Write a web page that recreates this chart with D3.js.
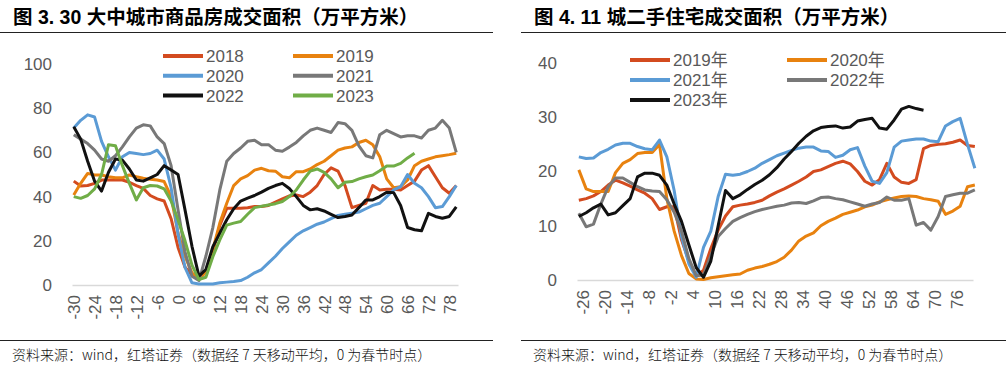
<!DOCTYPE html>
<html>
<head>
<meta charset="utf-8">
<script src="https://cdn.jsdelivr.net/npm/d3@7"></script>
<style>
body { margin: 0; background: #fff; }
svg { display: block; }
</style>
</head>
<body>
<div id="chart"></div>
<script>
// ---- left panel: 大中城市商品房成交面积, day 0 = Spring Festival ----
const daysL = [-30,-28,-26,-24,-22,-20,-18,-16,-14,-12,-10,-8,-6,-4,-2,0,2,4,6,8,10,12,14,16,18,20,22,24,26,28,30,32,34,36,38,40,42,44,46,48,50,52,54,56,58,60,62,64,66,68,70,72,74,76,78,80];
const big2018 = [47,44.8,45,46,47.5,47.5,47.5,47.5,46.5,45,43.7,40.5,39,38,30,17,8,4.5,2.5,6,15,27,34.7,34.7,34.7,35,35.5,35.5,36,37.5,39,40.3,40.7,40,42,45,50,53,51.5,45,35,36,37,45,43,43.3,43.3,43,45,47,52,54,49,44,41.5,45];
const big2019 = [40.7,46,50.5,49.8,49.8,49,48.5,48.5,49.8,49,48.3,47.8,47.5,46.8,40,23.4,13,5.5,3,6,16,28,37,45,48,49.5,52,52.8,51.7,51.5,49,48.5,51.3,51.3,52.5,54.5,56,58.5,61,62,62.5,64.5,65.5,63.5,58,48,44,44.5,47.5,54,56,57,58,58.5,59,59.6];
const big2020 = [71,74.5,77,76,65,58,52,58,60,59.5,59,59.5,61,57,44,23,8,1,0.5,0.5,0.5,1,1.3,1.6,2,3.5,5.5,7,10,13,16.5,19.5,22.5,24.5,26,27.5,28.5,30,31.5,32,32.5,33,34.5,36,37,40,43,44.5,50,46,44,40,35,35.5,40,45];
const big2021 = [68,66,64,61,57,56,58.5,62.5,67,71,72.5,72,67,64,54,34,15,4,2,13,26,43,56,59.5,62,65,65.5,63.5,63.5,61,60.5,62.4,64.5,67.5,70,71,70,69,73.5,73,70,63,58.5,57.5,68,70,68.5,67,67.5,67.5,66.5,70,71,74.5,71,60];
const big2022 = [71.6,66,56,47,42.5,51,57,56.5,52.5,47.5,47,48.5,50,54,52,50,34,17.5,4,7,17.3,23.4,29.5,34.5,38,39.3,40.5,42,43.7,45,46,43.7,40,36,34,34.5,33.5,32,30.5,31,31.7,35,38.5,38.5,40,42,41.8,36,26,25,24.5,32.4,31,30.2,31,35.4];
const big2023 = [40,39.2,40.5,43.5,50,63.5,63,54,46,38.5,44,45,44.8,43.5,38,29.4,20,9,2.5,3.5,12.8,20.4,27.1,28,28.7,32,35,35.6,36.2,36.8,37.8,40,43,47.5,51.5,52.5,51,48,44,46.5,46.8,48,49,49.8,51.7,53.8,53.8,55,57.5,59.6,null,null,null,null,null,null];
const namesL = ["2018","2019","2020","2021","2022","2023"];
const xTicksL = [-30,-24,-18,-12,-6,0,6,12,18,24,30,36,42,48,54,60,66,72,78];
const yTicksL = [0,20,40,60,80,100];

// ---- right panel: 11 城二手住宅成交面积 ----
const daysR = [-27,-25,-23,-21,-19,-17,-15,-13,-11,-9,-7,-5,-3,-1,1,3,5,7,9,11,13,15,17,19,21,23,25,27,29,31,33,35,37,39,41,43,45,47,49,51,53,55,57,59,61,63,65,67,69,71,73,75,77,79,81];
const used2019 = [14.7,15,15.5,16.3,17.5,18.4,17.9,17.3,16.6,16,15,13,13.5,13.5,7.4,3.5,0.7,1.8,5.8,9.2,11.8,13.5,13.8,14,14.3,14.7,15.5,16.2,16.8,17.5,18.2,19,20,20.3,20.9,21.5,21.9,21.4,20,18.2,17.5,18.5,21.5,19,18,17.8,18.5,24.2,24.8,25,25.1,25.4,25.8,24.8,24.6];
const used2020 = [20.3,16.8,16.3,16.3,16.3,19.8,21.5,22.2,23.3,23.5,23.5,25,15,9,4.5,1.2,0.2,0.1,0.4,0.6,0.8,0.95,1.1,1.8,2.2,2.5,2.9,3.4,4.2,5.5,7.2,8.1,8.7,10,10.8,11.4,12.1,12.5,12.9,13.5,13.8,14.4,14.8,15.1,15.4,15.5,15.4,15,14.8,14.5,12.1,12.7,13.6,17.2,17.5];
const used2021 = [22.7,22.4,22.5,23.5,24.1,24.9,25.2,25.2,24.6,24.2,24,25.8,22.7,16.5,8,3,0.5,6,9,15.4,19.5,19.3,19.5,20,20.6,21.5,22.2,22.9,23.4,23.9,24.3,24.5,24.5,23.8,23.7,22.6,23,24,24.4,21,18.2,17.8,19.8,24.5,25.6,25.8,26,26,25.6,25.5,28.4,29.2,29.8,25,20.6];
const used2022 = [12.3,9.8,10.3,14,17.2,18.8,18.8,18,17.2,16.6,16.4,16.3,14.8,12.5,9,4,0.8,0.9,4.5,8,9.5,10.8,11.5,12.1,12.6,13,13.3,13.6,13.8,14.2,14.3,14.1,14.6,15.2,15.3,15,14.8,14.4,14,13.6,14,14.3,15.3,14.7,14.7,15,10.1,10.6,9.2,11.7,15.4,15.7,16,16,16.6];
const used2023 = [11.7,12.4,13.3,14,12,12.4,13.7,15,19,19.7,19.7,19.3,17.5,14,10.8,6.5,2.3,0.5,3.5,10,16.5,15,15.7,16.7,17.6,18.4,19.4,20.7,22.3,23.7,25.2,26.5,27.5,28.1,28.3,28.4,28,28.2,29.3,29.6,29.8,28,27.8,29.5,31.5,32,31.6,31.3,null,null,null,null,null,null,null];
const namesR = ["2019年","2020年","2021年","2022年","2023年"];
const xTicksR = [-26,-20,-14,-8,-2,4,10,16,22,28,34,40,46,52,58,64,70,76];
const yTicksR = [0,10,20,30,40];

const colorL = ["#d34b1f", "#e8820f", "#5b9bd5", "#787878", "#111111", "#70ad47"];
const colorR = ["#d34b1f", "#e8820f", "#5b9bd5", "#787878", "#111111"];
const numFont = "'Liberation Sans', Arial, sans-serif";
const cjkFont = "'Liberation Sans', Arial, 'Noto Sans CJK SC', sans-serif";

let svg = d3.select("#chart")
    .append("svg")
    .attr("width", 1006)
    .attr("height", 371);

function drawPanel(p) {
    let g = svg.append("g");

    // title + rules
    g.append("text")
        .attr("x", p.left + 13)
        .attr("y", 24)
        .style("font-family", cjkFont)
        .style("font-weight", "bold")
        .style("font-size", "19.5px")
        .attr("fill", "#000")
        .text(p.title);
    g.append("line")
        .attr("x1", p.left).attr("x2", p.right)
        .attr("y1", 32.5).attr("y2", 32.5)
        .attr("stroke", "#222").attr("stroke-width", 1.2);
    g.append("line")
        .attr("x1", p.left).attr("x2", p.right)
        .attr("y1", 340.5).attr("y2", 340.5)
        .attr("stroke", "#222").attr("stroke-width", 1.2);
    g.append("text")
        .attr("x", p.left + 12)
        .attr("y", 360)
        .style("font-family", "'Noto Sans CJK SC', sans-serif")
        .style("font-weight", 300)
        .style("font-size", "14px")
        .attr("fill", "#111")
        .text("资料来源：wind，红塔证券（数据经 7 天移动平均，0 为春节时点）");

    let x = d3.scaleLinear().domain(p.xDomain).range(p.xRange);
    let y = d3.scaleLinear().domain([0, p.yMax]).range([p.y0, p.yTop]);

    // x axis (only baseline + rotated labels)
    let xa = g.append("g")
        .attr("transform", "translate(0," + p.y0 + ")")
        .call(d3.axisBottom(x).tickValues(p.xTicks).tickSize(0).tickSizeOuter(0).tickFormat(d => d));
    xa.select(".domain").attr("stroke", "#d9d9d9").attr("stroke-width", 1.3);
    xa.selectAll("text")
        .attr("transform", "rotate(-90)")
        .attr("text-anchor", "end")
        .attr("x", -10)
        .attr("y", 0)
        .attr("dy", "0.35em")
        .style("font-family", numFont)
        .style("font-size", "17px")
        .attr("fill", "#595959");

    // y axis labels
    let ya = g.append("g")
        .attr("transform", "translate(" + p.yLabelX + ",0)")
        .call(d3.axisLeft(y).tickValues(p.yTicks).tickSize(0).tickPadding(0));
    ya.select(".domain").remove();
    ya.selectAll("text")
        .style("font-family", numFont)
        .style("font-size", "17px")
        .attr("fill", "#595959");

    let line = d3.line()
        .defined(v => v != null)
        .x((v, i) => x(p.days[i]))
        .y(v => y(v));

    p.series.forEach((s, i) => {
        g.append("path")
            .datum(s)
            .attr("fill", "none")
            .attr("stroke", p.colors[i])
            .attr("stroke-width", 3)
            .attr("stroke-linejoin", "round")
            .attr("d", line);
    });

    // legend, two columns
    let lg = g.selectAll(".leg")
        .data(p.names)
        .enter()
        .append("g")
        .attr("class", "leg")
        .attr("transform", (d, i) => "translate(" + p.legX[i % 2] + "," + (p.legY + Math.floor(i / 2) * p.legStep) + ")");
    lg.append("line")
        .attr("x1", 0).attr("x2", 40)
        .attr("stroke", (d, i) => p.colors[i])
        .attr("stroke-width", 4);
    lg.append("text")
        .attr("x", 43)
        .attr("dy", "0.35em")
        .style("font-family", cjkFont)
        .style("font-size", "17px")
        .attr("fill", "#595959")
        .text(d => d);
}

drawPanel({
    left: 0, right: 493,
    title: "图 3. 30 大中城市商品房成交面积（万平方米）",
    days: daysL,
    series: [big2018, big2019, big2020, big2021, big2022, big2023],
    names: namesL, colors: colorL,
    xDomain: [-30.5, 80.5], xRange: [72, 458],
    xTicks: xTicksL,
    yMax: 100, y0: 285, yTop: 64, yTicks: yTicksL, yLabelX: 52,
    legX: [163, 293], legY: 56, legStep: 19.8
});

drawPanel({
    left: 521, right: 1006,
    title: "图 4. 11 城二手住宅成交面积（万平方米）",
    days: daysR,
    series: [used2019, used2020, used2021, used2022, used2023],
    names: namesR, colors: colorR,
    xDomain: [-27.5, 80.5], xRange: [577, 973],
    xTicks: xTicksR,
    yMax: 40, y0: 280, yTop: 63, yTicks: yTicksR, yLabelX: 557,
    legX: [630, 787], legY: 60, legStep: 20
});
</script>
</body>
</html>
